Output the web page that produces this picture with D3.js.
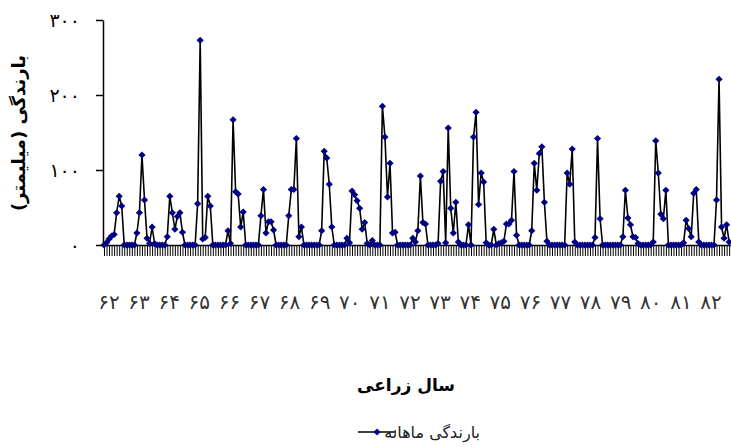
<!DOCTYPE html>
<html><head><meta charset="utf-8">
<script src="https://cdn.jsdelivr.net/npm/d3@7"></script>
<style>
body{margin:0;background:#fff;}
svg{display:block;font-family:"DejaVu Sans",sans-serif;}
</style>
</head><body>
<svg id="c" width="731" height="448"></svg>
<script>
// ---- data ----
const yearLabels = ["۶۲","۶۳","۶۴","۶۵","۶۶","۶۷","۶۸","۶۹","۷۰","۷۱","۷۲","۷۳","۷۴","۷۵","۷۶","۷۷","۷۸","۷۹","۸۰","۸۱","۸۲"];
const rainfall = [
  0,3,8,12,14,43,65,52,0,0,0,0,
  0,16,43,120,60,9,2,24,2,0,0,0,
  0,11,65,43,21,38,43,17,0,0,0,0,
  0,55,273,8,10,65,52,0,0,0,0,0,
  0,19,2,167,71,68,24,44,0,0,0,0,
  0,0,39,74,16,31,31,20,0,0,0,0,
  0,39,74,74,142,11,24,0,0,0,0,0,
  0,0,19,125,116,81,24,0,0,0,0,0,
  9,3,72,67,59,49,21,30,2,0,6,0,
  0,0,185,144,64,109,16,17,0,0,0,0,
  0,0,9,4,19,92,30,28,0,0,0,0,
  2,85,98,3,156,49,16,57,4,0,0,0,
  27,0,144,177,54,96,84,3,0,0,21,0,
  2,3,5,28,28,33,98,13,0,0,0,0,
  0,19,109,73,122,131,57,5,0,0,0,0,
  0,0,0,96,81,128,4,0,0,0,0,0,
  0,0,10,142,35,0,0,0,0,0,0,0,
  0,11,73,36,27,11,10,2,0,0,0,0,
  0,4,139,96,41,35,73,0,0,0,0,0,
  0,3,33,22,11,69,74,4,0,0,0,0,
  0,0,60,221,24,9,27,4
];
const yTicks = [0,100,200,300];
const yTickLabels = ["۰","۱۰۰","۲۰۰","۳۰۰"];
const yTitle = "بارندگی (میلیمتر)";
const xTitle = "سال زراعی";
const legendLabel = "بارندگی ماهانه";
const nMonths = 252;

// ---- drawing ----
const svg = d3.select("#c");
const step = 2.531;
const x = d3.scaleLinear().domain([0, nMonths - 1]).range([104, 104 + step * (nMonths - 1)]);
const y = d3.scaleLinear().domain([0, 300]).range([245, 20]);
const yearX = d3.scalePoint().domain(yearLabels).range([109, 711]);

// x axis (month ticks)
const xAxis = d3.axisBottom(x).tickValues(d3.range(nMonths)).tickFormat("").tickSize(11).tickSizeOuter(0);
const gx = svg.append("g").attr("transform", "translate(0,245)").call(xAxis);
gx.select(".domain").attr("stroke", "#000").attr("stroke-width", 1.5).attr("d", "M103,0.5H731");
gx.selectAll(".tick line").attr("stroke", "#000").attr("stroke-width", 1);

// y axis
const yAxis = d3.axisLeft(y).tickValues(yTicks).tickFormat((d, i) => yTickLabels[i]).tickSize(7).tickSizeOuter(0).tickPadding(16);
const gy = svg.append("g").attr("transform", "translate(103,0)").call(yAxis);
gy.select(".domain").attr("stroke", "#000").attr("stroke-width", 1.5);
gy.selectAll(".tick line").attr("stroke", "#000").attr("stroke-width", 1.5);
gy.selectAll(".tick text").attr("font-size", 19).attr("fill", "#000").attr("font-family", "DejaVu Sans");

// y title
svg.append("text")
  .attr("transform", "translate(25,133) rotate(-90)")
  .attr("text-anchor", "middle")
  .attr("font-size", 18).attr("font-weight", "bold")
  .text(yTitle);

// year labels
svg.append("g").selectAll("text").data(yearLabels).join("text")
  .attr("x", d => yearX(d)).attr("y", 309)
  .attr("text-anchor", "middle").attr("font-size", 20).attr("fill", "#333")
  .text(d => d);

// line
const line = d3.line().x((d, i) => x(i)).y(d => y(d));
svg.append("path").datum(rainfall)
  .attr("d", line).attr("fill", "none").attr("stroke", "#000").attr("stroke-width", 1.6)
  .attr("stroke-linejoin", "round");

// markers
const diamond = r => `M0,${-r}L${r},0L0,${r}L${-r},0Z`;
svg.append("g").selectAll("path").data(rainfall).join("path")
  .attr("d", diamond(3.6))
  .attr("transform", (d, i) => `translate(${x(i)},${y(d)})`)
  .attr("fill", "#000080");

// x title
svg.append("text").attr("x", 406).attr("y", 391)
  .attr("text-anchor", "middle").attr("font-size", 17).attr("font-weight", "bold")
  .text(xTitle);

// legend
const lg = svg.append("g").attr("transform", "translate(0,432)");
lg.append("line").attr("x1", 358).attr("x2", 396).attr("y1", 0).attr("y2", 0).attr("stroke", "#000").attr("stroke-width", 1.6);
lg.append("path").attr("d", diamond(3.6)).attr("transform", "translate(377,0)").attr("fill", "#000080");
lg.append("text").attr("x", 480).attr("y", 6).attr("text-anchor", "end").attr("font-size", 16).attr("fill", "#222").text(legendLabel);
</script>
</body></html>
